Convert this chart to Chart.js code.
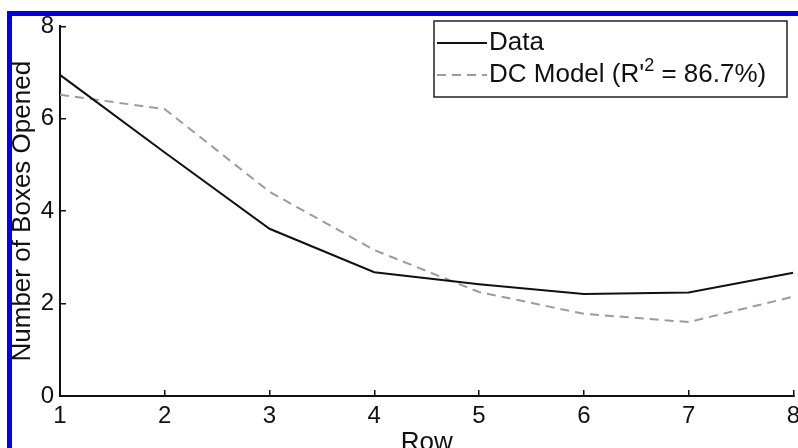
<!DOCTYPE html>
<html>
<head>
<meta charset="utf-8">
<script src="https://cdn.jsdelivr.net/npm/chart.js@4"></script>
<style>
  html, body { margin: 0; padding: 0; background: #fff; overflow: hidden; }
  #wrap { position: relative; width: 798px; height: 448px; overflow: hidden; }
  #frame {
    position: absolute; left: 7px; top: 11px; width: 900px; height: 500px;
    border-left: 5px solid #0000f2; border-top: 5px solid #0000f2;
    pointer-events: none;
  }
  canvas { position: absolute; left: 0; top: 0; }
</style>
</head>
<body>
<div id="wrap">
  <canvas id="rowChart" width="812" height="462"></canvas>
  <div id="frame"></div>
</div>
<script>
const rows = [1, 2, 3, 4, 5, 6, 7, 8];
const dataValues = [6.95, 5.27, 3.62, 2.68, 2.42, 2.21, 2.24, 2.67];
const modelValues = [6.52, 6.21, 4.42, 3.16, 2.25, 1.78, 1.60, 2.15];
const yTicks = [0, 2, 4, 6, 8];
const seriesNames = ["Data", "DC Model (R'^2 = 86.7%)"];

const FONT = "'Liberation Sans', Arial, sans-serif";

// legend drawn in a box inside the plot, matlab style
const boxLegend = {
    id: "boxLegend",
    afterDraw(chart) {
        const ctx = chart.ctx;
        const x0 = 434, y0 = 21, w = 353, h = 76;
        ctx.save();
        ctx.fillStyle = "#fff";
        ctx.fillRect(x0, y0, w, h);
        ctx.strokeStyle = "#222";
        ctx.lineWidth = 1.5;
        ctx.strokeRect(x0, y0, w, h);

        chart.data.datasets.forEach((ds, i) => {
            const cy = y0 + 22 + i * 32;
            ctx.beginPath();
            ctx.strokeStyle = ds.borderColor;
            ctx.lineWidth = ds.borderWidth;
            ctx.setLineDash(ds.borderDash || []);
            ctx.moveTo(x0 + 3, cy);
            ctx.lineTo(x0 + 53, cy);
            ctx.stroke();
            ctx.setLineDash([]);

            ctx.fillStyle = "#111";
            ctx.textBaseline = "middle";
            ctx.textAlign = "left";
            let tx = x0 + 55;
            const parts = ds.label.split("^");
            ctx.font = "26px " + FONT;
            ctx.fillText(parts[0], tx, cy);
            tx += ctx.measureText(parts[0]).width;
            if (parts.length > 1) {
                const sup = parts[1].charAt(0);
                const rest = parts[1].slice(1);
                ctx.font = "18px " + FONT;
                ctx.fillText(sup, tx, cy - 9);
                tx += ctx.measureText(sup).width;
                ctx.font = "26px " + FONT;
                ctx.fillText(rest, tx, cy);
            }
        });
        ctx.restore();
    }
};

const ctx = document.getElementById("rowChart").getContext("2d");

new Chart(ctx, {
    type: "line",
    data: {
        datasets: [{
            label: seriesNames[0],
            data: rows.map((r, i) => ({ x: r, y: dataValues[i] })),
            borderColor: "#111",
            borderWidth: 2,
            pointRadius: 0,
            tension: 0,
            fill: false
        }, {
            label: seriesNames[1],
            data: rows.map((r, i) => ({ x: r, y: modelValues[i] })),
            borderColor: "#9c9c9c",
            borderWidth: 2,
            borderDash: [9, 6],
            pointRadius: 0,
            tension: 0,
            fill: false
        }]
    },
    options: {
        responsive: false,
        animation: false,
        devicePixelRatio: 1,
        layout: { padding: { left: 0, top: 25, right: 10, bottom: 0 } },
        plugins: {
            legend: { display: false },
            tooltip: { enabled: false }
        },
        scales: {
            x: {
                type: "linear",
                min: 1,
                max: 8,
                afterFit: s => { s.height = 66; },
                afterBuildTicks: s => { s.ticks = rows.map(v => ({ value: v })); },
                grid: { drawOnChartArea: false, tickLength: -6, color: "#111", lineWidth: 1.5 },
                border: { color: "#111", width: 2 },
                ticks: {
                    color: "#111",
                    padding: 12,
                    maxRotation: 0,
                    font: { family: FONT, size: 24 }
                },
                title: {
                    display: true,
                    text: "Row",
                    color: "#111",
                    font: { family: FONT, size: 26 },
                    padding: { top: 0, bottom: 4 }
                }
            },
            y: {
                min: 0,
                max: 8,
                afterFit: s => { s.width = 60; },
                afterBuildTicks: s => { s.ticks = yTicks.map(v => ({ value: v })); },
                grid: { drawOnChartArea: false, tickLength: -6, color: "#111", lineWidth: 1.5 },
                border: { color: "#111", width: 2 },
                ticks: {
                    color: "#111",
                    padding: 12,
                    font: { family: FONT, size: 24 }
                },
                title: {
                    display: true,
                    text: "Number of Boxes Opened",
                    color: "#111",
                    font: { family: FONT, size: 26 },
                    padding: { top: 7, bottom: 0 }
                }
            }
        }
    },
    plugins: [boxLegend]
});
</script>
</body>
</html>
